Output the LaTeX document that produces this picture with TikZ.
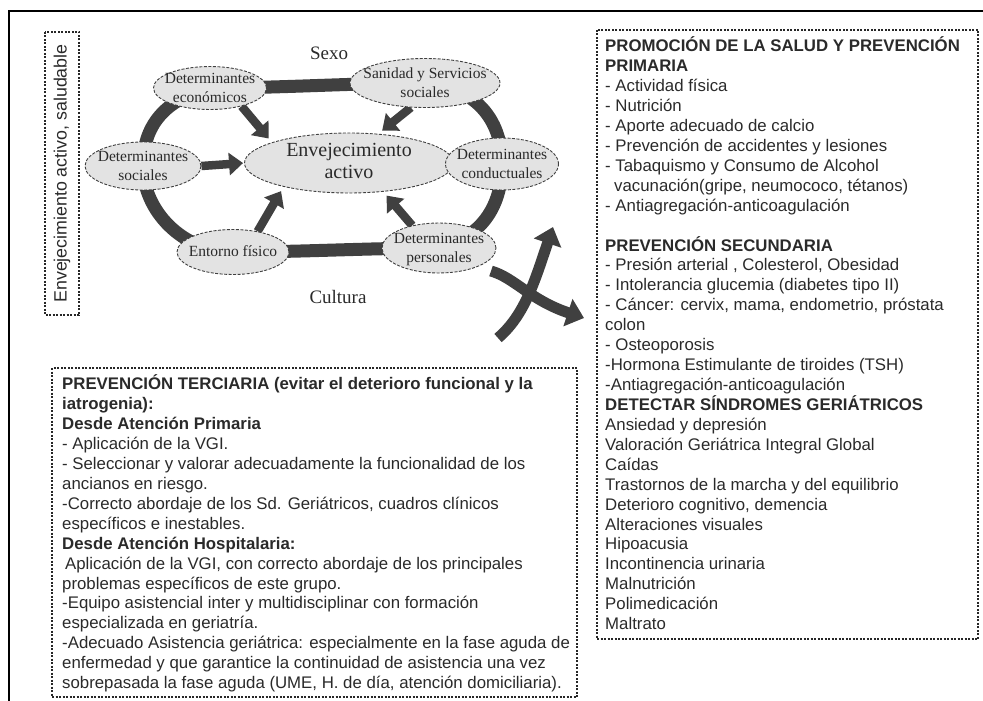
\documentclass[tikz,border=0pt]{standalone}
\usepackage{fontspec}
\setmainfont{Liberation Serif}
\setsansfont{Liberation Sans}
\usetikzlibrary{arrows.meta,shapes.geometric,backgrounds}
\definecolor{ringgray}{HTML}{404040}
\definecolor{ellfill}{HTML}{E3E3E3}
\definecolor{txtgray}{HTML}{2A2A2A}
\newcommand\ellt[1]{\smash{\makebox[0pt]{\raisebox{-0.28em}{\begin{tabular}{@{}c@{}}#1\end{tabular}}}}}
\begin{document}
\begin{tikzpicture}[x=1pt,y=-1pt,
  det/.style 2 args={ellipse, draw=black!75, dash pattern=on 3pt off 1.5pt, line width=0.9pt,
     fill=ellfill, inner sep=0pt, minimum width=#1, minimum height=#2,
     text=txtgray, font=\fontsize{15.5}{19}\selectfont},
  inarrow/.style={draw=ringgray, line width=8.5pt, -{Triangle[length=14pt,width=22pt]}, shorten >=5pt},
  ringband/.style={draw=ringgray, line width=13pt, line join=round},
  swirl/.style={draw=ringgray, line width=11pt, -{Triangle[length=17pt,width=28pt]}},
  dbox/.style={draw=black!85, line width=1.1pt, dash pattern=on 2pt off 1.5pt},
  boxtext/.style={anchor=north west, inner sep=0pt, align=left, font=\sffamily\fontsize{16.8}{19.93}\selectfont, text=txtgray},
  outerframe/.style={draw=black, line width=2.6pt},
  theme/.style={text=txtgray, font=\fontsize{19}{22}\selectfont, inner sep=0pt}
]
\useasboundingbox (0,0) rectangle (983,701);
\draw[outerframe] (9,701) -- (9,11) -- (983,11);

% vertical label box
\draw[dbox] (45,32) rectangle (79,315);
\node[font=\sffamily\fontsize{17.8}{20}\selectfont, rotate=90, text=txtgray, inner sep=0pt] (vt) at (62,173.5) {Envejecimiento activo, saludable};

% ellipses
\node[det={113pt}{43pt}] (eco) at (210,88) {\ellt{Determinantes\\económicos}};
\node[det={150pt}{49pt}] (san) at (425,83) {\ellt{Sanidad y Servicios\\sociales}};
\node[det={116pt}{48pt}] (soc) at (143,166) {\ellt{Determinantes\\sociales}};
\node[det={209pt}{60pt}, font=\fontsize{20}{22}\selectfont] (env) at (349,163) {\ellt{Envejecimiento\\activo}};
\node[det={113pt}{52pt}] (con) at (502,164) {\ellt{Determinantes\\conductuales}};
\node[det={112pt}{45pt}] (ent) at (233,252) {\ellt{Entorno físico}};
\node[det={114pt}{50pt}] (per) at (439,248) {\ellt{Determinantes\\personales}};

\node[theme] (sexo) at (329,53) {Sexo};
\node[theme] (cultura) at (338,297) {Cultura};

\begin{scope}[on background layer]
\draw[ringband] (eco.center) .. controls +(70,0) and +(-70,0) .. (san.center)
  .. controls +(55,5) and +(0,-40) .. (con.center)
  .. controls +(0,45) and +(40,-10) .. (per.center)
  .. controls +(-70,0) and +(70,0) .. (ent.center)
  .. controls +(-50,0) and +(0,45) .. (soc.center)
  .. controls +(0,-45) and +(-40,10) .. (eco.center) -- cycle;
\draw[inarrow] (eco.-30) -- (env.165);
\draw[inarrow] (san.-120) -- (env.45);
\draw[inarrow, shorten >=1pt] (soc.east) -- (env.west);
\draw[inarrow] (ent.40) -- (env.200);
\draw[inarrow] (per.140) -- (env.-40);
\end{scope}

% crossing arrows
\draw[swirl] (498,338) .. controls (525,315) and (535,280) .. (553,227);
\draw[swirl] (491,271) .. controls (515,278) and (530,300) .. (584,318);

% right box
\draw[dbox] (597,30) rectangle (978,639);
\node[boxtext] (prim) at (605,36.5) {\rule{0pt}{15pt}\textbf{PROMOCIÓN DE LA SALUD Y PREVENCIÓN}\\
\textbf{PRIMARIA}\\
- Actividad física\\
- Nutrición\\
- Aporte adecuado de calcio\\
- Prevención de accidentes y lesiones\\
- Tabaquismo y Consumo de Alcohol\\
\hspace*{9pt}vacunación(gripe, neumococo, tétanos)\\
- Antiagregación-anticoagulación\\[19.93pt]
\textbf{PREVENCIÓN SECUNDARIA}\\
- Presión arterial , Colesterol, Obesidad\\
- Intolerancia glucemia (diabetes tipo II)\\
- Cáncer: cervix, mama, endometrio, próstata\\
colon\\
- Osteoporosis\\
-Hormona Estimulante de tiroides (TSH)\\
-Antiagregación-anticoagulación\\
\textbf{DETECTAR SÍNDROMES GERIÁTRICOS}\\
Ansiedad y depresión\\
Valoración Geriátrica Integral Global\\
Caídas\\
Trastornos de la marcha y del equilibrio\\
Deterioro cognitivo, demencia\\
Alteraciones visuales\\
Hipoacusia\\
Incontinencia urinaria\\
Malnutrición\\
Polimedicación\\
Maltrato};

% bottom box
\draw[dbox] (52,368) rectangle (577,697);
\node[boxtext] (terc) at (62,374.5) {\rule{0pt}{15pt}\textbf{PREVENCIÓN TERCIARIA (evitar el deterioro funcional y la}\\
\textbf{iatrogenia):}\\
\textbf{Desde Atención Primaria}\\
- Aplicación de la VGI.\\
- Seleccionar y valorar adecuadamente la funcionalidad de los\\
ancianos en riesgo.\\
-Correcto abordaje de los Sd. Geriátricos, cuadros clínicos\\
específicos e inestables.\\
\textbf{Desde Atención Hospitalaria:}\\
\hspace*{3pt}Aplicación de la VGI, con correcto abordaje de los principales\\
problemas específicos de este grupo.\\
-Equipo asistencial inter y multidisciplinar con formación\\
especializada en geriatría.\\
-Adecuado Asistencia geriátrica: especialmente en la fase aguda de\\
enfermedad y que garantice la continuidad de asistencia una vez\\
sobrepasada la fase aguda (UME, H. de día, atención domiciliaria).};
\end{tikzpicture}
\end{document}
